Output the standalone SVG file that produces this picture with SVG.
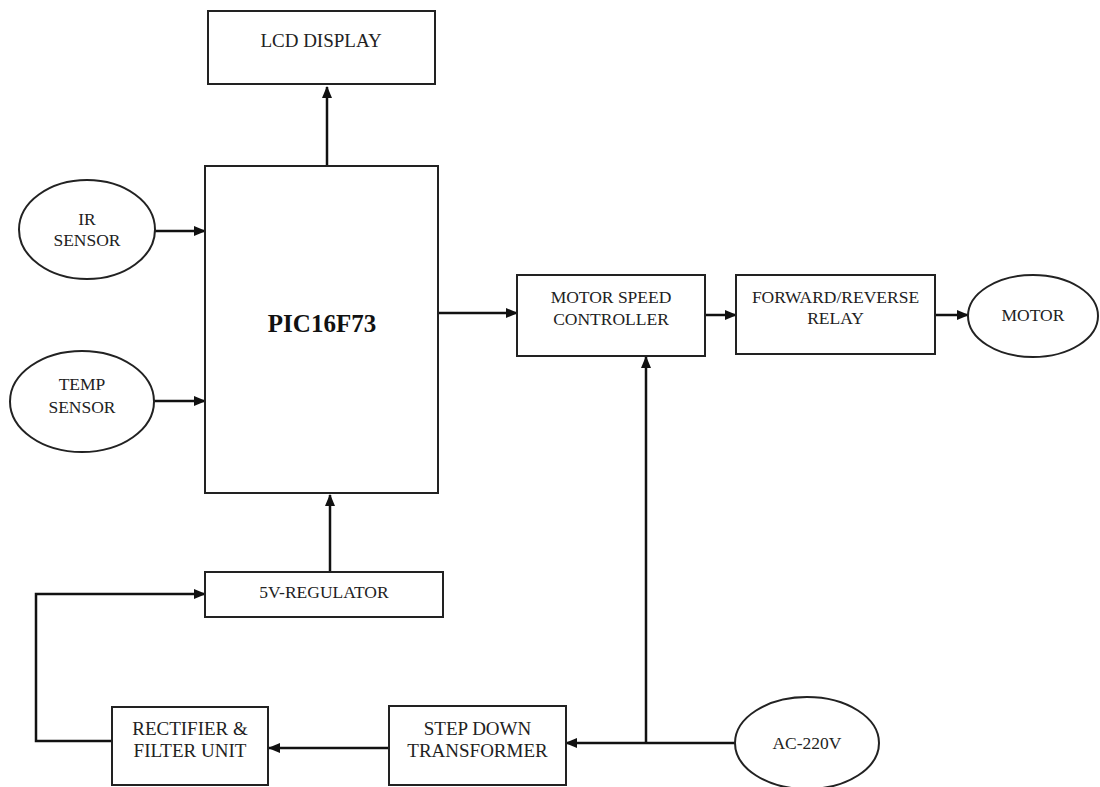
<svg xmlns="http://www.w3.org/2000/svg" width="1100" height="787" viewBox="0 0 1100 787">
<style>
.box{fill:#fff;stroke:#222;stroke-width:2}
.t{font-family:"Liberation Serif","Times New Roman",serif;font-size:17.5px;fill:#222;text-anchor:middle}
.tl{font-size:19px}
.big{font-size:25px;font-weight:bold;fill:#111}
.c{fill:none;stroke:#111;stroke-width:2.5}
</style>
<defs>
<marker id="ah" markerUnits="userSpaceOnUse" markerWidth="12" markerHeight="10" viewBox="0 0 12 10" refX="11" refY="5" orient="auto">
<path d="M0,0 L12,5 L0,10 Z" fill="#111"/>
</marker>
</defs>
<rect width="1100" height="787" fill="#fff"/>
<g id="connectors">
<line class="c" x1="327" y1="166" x2="327" y2="87" marker-end="url(#ah)"/>
<line class="c" x1="155" y1="231" x2="205" y2="231" marker-end="url(#ah)"/>
<line class="c" x1="154" y1="401" x2="205" y2="401" marker-end="url(#ah)"/>
<line class="c" x1="330" y1="572" x2="330" y2="495" marker-end="url(#ah)"/>
<line class="c" x1="438" y1="313" x2="517" y2="313" marker-end="url(#ah)"/>
<line class="c" x1="705" y1="315" x2="736" y2="315" marker-end="url(#ah)"/>
<line class="c" x1="935" y1="315" x2="968" y2="315" marker-end="url(#ah)"/>
<polyline class="c" points="112,741 36,741 36,594 205,594" marker-end="url(#ah)"/>
<line class="c" x1="389" y1="748" x2="269" y2="748" marker-end="url(#ah)"/>
<line class="c" x1="736" y1="743" x2="566" y2="743" marker-end="url(#ah)"/>
<line class="c" x1="646" y1="743" x2="646" y2="357" marker-end="url(#ah)"/>
</g>
<g id="lcd">
<rect class="box" x="208" y="11" width="227" height="73"/>
<text class="t tl" x="321" y="47">LCD DISPLAY</text>
</g>
<g id="pic">
<rect class="box" x="205" y="166" width="233" height="327"/>
<text class="t big" x="322" y="332">PIC16F73</text>
</g>
<g id="ir">
<ellipse class="box" cx="87" cy="229.5" rx="68" ry="49.5"/>
<text class="t" x="87" y="225">IR</text>
<text class="t" x="87" y="246">SENSOR</text>
</g>
<g id="temp">
<ellipse class="box" cx="82" cy="401.5" rx="72" ry="50.5"/>
<text class="t" x="82" y="390">TEMP</text>
<text class="t" x="82" y="413">SENSOR</text>
</g>
<g id="regulator">
<rect class="box" x="205" y="572" width="238" height="45"/>
<text class="t" x="324" y="598">5V-REGULATOR</text>
</g>
<g id="rectifier">
<rect class="box" x="112" y="707" width="156" height="78"/>
<text class="t tl" x="190" y="735">RECTIFIER &amp;</text>
<text class="t tl" x="190" y="757">FILTER UNIT</text>
</g>
<g id="stepdown">
<rect class="box" x="389" y="706" width="177" height="79"/>
<text class="t tl" x="477.5" y="735">STEP DOWN</text>
<text class="t tl" x="477.5" y="757">TRANSFORMER</text>
</g>
<g id="ac">
<ellipse class="box" cx="807" cy="743" rx="72" ry="46"/>
<text class="t" x="807" y="749">AC-220V</text>
</g>
<g id="msc">
<rect class="box" x="517" y="275" width="188" height="81"/>
<text class="t" x="611" y="303">MOTOR SPEED</text>
<text class="t" x="611" y="325">CONTROLLER</text>
</g>
<g id="relay">
<rect class="box" x="736" y="275" width="199" height="79"/>
<text class="t" x="835.5" y="303">FORWARD/REVERSE</text>
<text class="t" x="835.5" y="324">RELAY</text>
</g>
<g id="motor">
<ellipse class="box" cx="1033" cy="316" rx="65" ry="41"/>
<text class="t" x="1033" y="321">MOTOR</text>
</g>
</svg>
